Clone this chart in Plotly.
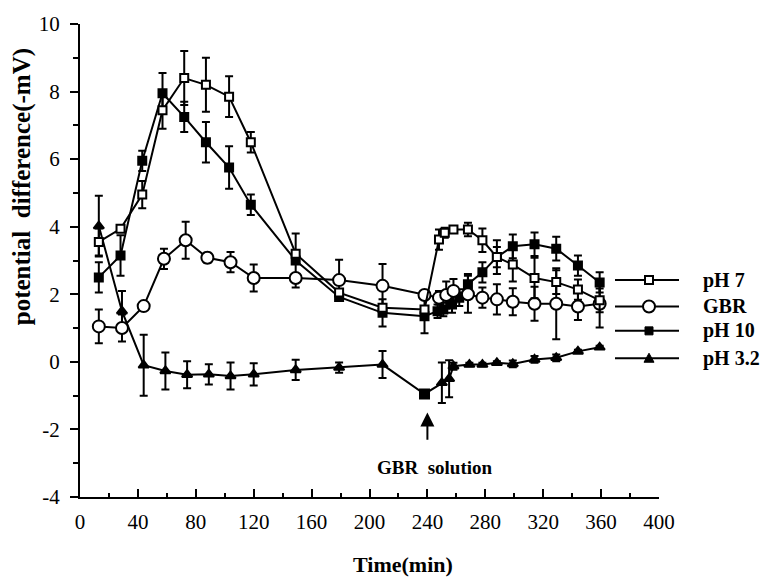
import plotly.graph_objects as go

# ---------------- data ----------------
ph7_x = [13, 28, 43, 57, 72, 87, 103, 118, 149, 179, 209, 238, 248, 252, 258, 268, 278, 288, 299, 314, 329, 344, 359]
ph7_y = [3.55, 3.94, 4.95, 7.45, 8.4, 8.2, 7.85, 6.5, 3.2, 2.05, 1.6, 1.55, 3.62, 3.82, 3.92, 3.92, 3.6, 3.1, 2.88, 2.48, 2.36, 2.14, 1.82]
ph7_e = [0.4, 0.1, 0.4, 0.55, 0.8, 0.8, 0.6, 0.3, 0.1, 0.1, 0.1, 0.1, 0.3, 0.15, 0.1, 0.2, 0.35, 0.5, 0.5, 0.6, 0.35, 0.3, 0.35]

gbr_x = [13, 29, 44, 58, 73, 88, 104, 120, 149, 179, 209, 238, 248, 253, 258, 268, 278, 288, 299, 314, 329, 344, 359]
gbr_y = [1.05, 1.0, 1.65, 3.05, 3.6, 3.08, 2.95, 2.48, 2.48, 2.42, 2.25, 1.98, 1.9, 1.98, 2.1, 2.0, 1.9, 1.85, 1.78, 1.72, 1.72, 1.64, 1.72]
gbr_e = [0.5, 0.4, 0.05, 0.3, 0.55, 0.15, 0.3, 0.4, 0.1, 0.6, 0.65, 0.1, 0.2, 0.4, 0.35, 0.55, 0.3, 0.45, 0.4, 0.5, 1.05, 0.4, 0.7]

ph10_x = [13, 28, 43, 57, 72, 87, 103, 118, 149, 179, 209, 238, 247, 251, 257, 262, 268, 278, 288, 299, 314, 329, 344, 359]
ph10_y = [2.5, 3.15, 5.95, 7.95, 7.25, 6.5, 5.75, 4.65, 3.0, 1.92, 1.45, 1.35, 1.5, 1.55, 1.7, 1.9, 2.3, 2.65, 3.1, 3.42, 3.48, 3.35, 2.85, 2.35]
ph10_e = [0.45, 0.6, 0.3, 0.6, 0.45, 0.6, 0.63, 0.3, 0.8, 0.1, 0.4, 0.5, 0.2, 0.2, 0.25, 0.25, 0.3, 0.3, 0.3, 0.35, 0.35, 0.35, 0.3, 0.3]

ph32_x = [13, 29, 44, 59, 74, 89, 104, 120, 149, 179, 209, 238, 250, 255, 258, 269, 278, 288, 299, 314, 329, 344, 359]
ph32_y = [4.02, 1.5, -0.1, -0.27, -0.38, -0.37, -0.42, -0.37, -0.24, -0.17, -0.08, -0.95, -0.62, -0.5, -0.13, -0.08, -0.08, -0.03, -0.06, 0.07, 0.12, 0.31, 0.43]
ph32_e = [0.9, 0.6, 0.9, 0.55, 0.4, 0.3, 0.4, 0.33, 0.3, 0.15, 0.4, 0.05, 0.6, 0.55, 0.1, 0.05, 0.05, 0.05, 0.1, 0.1, 0.1, 0.05, 0.05]

legend_labels = ["pH 7", "GBR", "pH 10", "pH 3.2"]
x_ticks = [0, 40, 80, 120, 160, 200, 240, 280, 320, 360, 400]
y_ticks = [-4, -2, 0, 2, 4, 6, 8, 10]
y_ticktext = ["-4", "-2", "0", "2", "4", "6", "8", "10"]

SERIF = "Liberation Serif, Times New Roman, serif"
BLACK = "black"

fig = go.Figure()

def add_series(x, y, e, symbol, size, fill):
    fig.add_trace(go.Scatter(
        x=x, y=y, mode="lines+markers",
        line=dict(color=BLACK, width=2),
        marker=dict(symbol=symbol, size=size, color=fill,
                    line=dict(color=BLACK, width=2)),
        error_y=dict(type="data", array=e, visible=True,
                     color=BLACK, thickness=2, width=4),
        showlegend=False, cliponaxis=False,
    ))

# the pH 3.2 point at the GBR addition is drawn as a filled square in the original
ph32_symbols = ["square" if x == 238 else "triangle-up" for x in ph32_x]
add_series(ph32_x, ph32_y, ph32_e, ph32_symbols, 9, BLACK)
add_series(ph10_x, ph10_y, ph10_e, "square", 8, BLACK)
add_series(gbr_x, gbr_y, gbr_e, "circle", 12, "white")
add_series(ph7_x, ph7_y, ph7_e, "square", 8, "white")

# ---------------- custom legend ----------------
L, R, T, B = 80, 104, 13, 82
W, H = 763, 579
pw, ph = W - L - R, H - T - B

def px_to_paper_x(px):
    return (px - L) / pw

def px_to_paper_y(py):
    return (H - B - py) / ph

leg_y = [275, 302, 327, 355]
shapes = []
annotations = []
for i, lab in enumerate(legend_labels):
    yy = px_to_paper_y(leg_y[i])
    shapes.append(dict(type="line", xref="paper", yref="paper",
                       x0=px_to_paper_x(615), x1=px_to_paper_x(679), y0=yy, y1=yy,
                       line=dict(color=BLACK, width=2)))
    cx = px_to_paper_x(649)
    if i == 0:
        shapes.append(dict(type="rect", xref="paper", yref="paper",
                           xsizemode="pixel", ysizemode="pixel", xanchor=cx, yanchor=yy,
                           x0=-4, x1=4, y0=-4, y1=4,
                           fillcolor="white", line=dict(color=BLACK, width=2)))
    elif i == 1:
        shapes.append(dict(type="circle", xref="paper", yref="paper",
                           xsizemode="pixel", ysizemode="pixel", xanchor=cx, yanchor=yy,
                           x0=-6, x1=6, y0=-6, y1=6,
                           fillcolor="white", line=dict(color=BLACK, width=2)))
    elif i == 2:
        shapes.append(dict(type="rect", xref="paper", yref="paper",
                           xsizemode="pixel", ysizemode="pixel", xanchor=cx, yanchor=yy,
                           x0=-4, x1=4, y0=-4, y1=4,
                           fillcolor=BLACK, line=dict(color=BLACK, width=1)))
    else:
        shapes.append(dict(type="path", xref="paper", yref="paper",
                           xsizemode="pixel", ysizemode="pixel", xanchor=cx, yanchor=yy,
                           path="M-5,-4 L5,-4 L0,5 Z",
                           fillcolor=BLACK, line=dict(color=BLACK, width=1)))
    annotations.append(dict(text="<b>%s</b>" % lab, xref="paper", yref="paper",
                            x=px_to_paper_x(701), y=yy, xanchor="left", yanchor="middle",
                            showarrow=False, font=dict(family=SERIF, size=20, color=BLACK)))

# arrow and "GBR solution"
annotations.append(dict(x=240, y=-1.5, ax=240, ay=-2.35, xref="x", yref="y",
                        axref="x", ayref="y", showarrow=True, arrowhead=2,
                        arrowsize=1.4, arrowwidth=2, arrowcolor=BLACK, text=""))
annotations.append(dict(x=245, y=-3.12, xref="x", yref="y", text="<b>GBR  solution</b>",
                        xanchor="center", yanchor="middle",
                        showarrow=False, font=dict(family=SERIF, size=19, color=BLACK)))
# axis titles
annotations.append(dict(x=px_to_paper_x(403), y=px_to_paper_y(566), xref="paper", yref="paper",
                        xanchor="center", yanchor="middle",
                        text="<b>Time(min)</b>", showarrow=False,
                        font=dict(family=SERIF, size=22, color=BLACK)))
annotations.append(dict(x=px_to_paper_x(22), y=px_to_paper_y(180), xref="paper", yref="paper",
                        xanchor="center", yanchor="middle",
                        text="<b>potential  difference(-mV)</b>", showarrow=False, textangle=-90,
                        font=dict(family=SERIF, size=25, color=BLACK)))

fig.update_layout(
    width=W, height=H,
    margin=dict(l=L, r=R, t=T, b=B),
    paper_bgcolor="white", plot_bgcolor="white",
    shapes=shapes, annotations=annotations,
    font=dict(family=SERIF, color=BLACK),
)
fig.update_xaxes(range=[0, 400], tickvals=x_ticks, showgrid=False, zeroline=False,
                 showline=True, linecolor=BLACK, linewidth=2,
                 ticks="inside", ticklen=8, tickwidth=2, tickcolor=BLACK,
                 minor=dict(dtick=20, tick0=0, ticks="inside", ticklen=4, tickwidth=2, tickcolor=BLACK),
                 tickfont=dict(family=SERIF, size=21, color=BLACK), ticklabelstandoff=5)
fig.update_yaxes(range=[-4, 10], tickvals=y_ticks, ticktext=y_ticktext, showgrid=False, zeroline=False,
                 showline=True, linecolor=BLACK, linewidth=2,
                 ticks="outside", ticklen=8, tickwidth=2, tickcolor=BLACK,
                 minor=dict(dtick=1, tick0=0, ticks="outside", ticklen=5, tickwidth=2, tickcolor=BLACK),
                 tickfont=dict(family=SERIF, size=21, color=BLACK), ticklabelstandoff=6)

fig.write_html("out.html")
